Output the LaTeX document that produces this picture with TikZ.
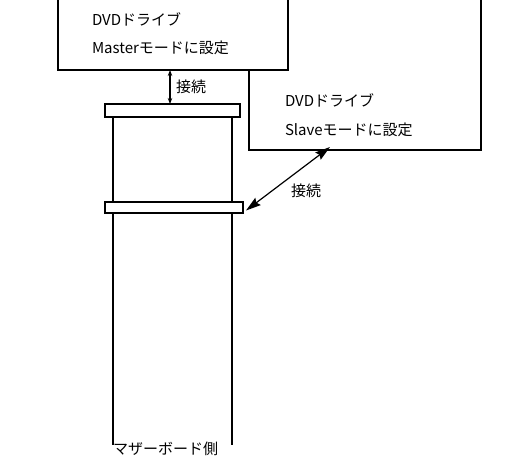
\documentclass[tikz,border=0pt]{standalone}
\usepackage{fontspec}
\setmainfont{Noto Sans CJK JP}
\usetikzlibrary{positioning,arrows.meta}

\begin{document}
\begin{tikzpicture}[x=1pt,y=-1pt,every node/.style={outer sep=0pt},
		drive/.style={draw,line width=1.8pt,fill=white},
		plug/.style={draw,line width=1.8pt,fill=white},
		cable/.style={line width=1.8pt},
		link/.style={line width=1.2pt,{Stealth[length=15pt,width=9pt,inset=2pt]}-{Stealth[length=15pt,width=9pt,inset=2pt]}},
		tiny link/.style={line width=1.2pt,{Stealth[length=6pt,width=4.5pt]}-{Stealth[length=6pt,width=4.5pt]}},
		lbl/.style={font=\fontsize{15}{17}\selectfont,inner sep=0pt},
		]
		\clip (0,0) rectangle (518,474);
		% drives
		\node[drive,minimum width=232,minimum height=180] (slave) at (365,60) {};
		\node[drive,minimum width=230,minimum height=100] (master) at (173,20) {};
		\node[lbl,anchor=west] (mname) at (92,19) {DVDドライブ};
		\node[lbl,anchor=west] (mmode) at (92,48) {Masterモードに設定};
		\node[lbl,anchor=west] (sname) at (285,100) {DVDドライブ};
		\node[lbl,anchor=west] (smode) at (285,130) {Slaveモードに設定};
		% cable
		\node[plug,minimum width=135,minimum height=13] (p1) at (172.5,110.5) {};
		\node[plug,minimum width=138,minimum height=11] (p2) at (174,207.5) {};
		\coordinate (e1) at (113,445);
		\coordinate (e2) at (232,445);
		\draw[cable] (p1.south -| e1) -- (p2.north -| e1);
		\draw[cable] (p1.south -| e2) -- (p2.north -| e2);
		\draw[cable] (p2.south -| e1) -- (e1);
		\draw[cable] (p2.south -| e2) -- (e2);
		\node[lbl,anchor=north west] (mb) at ([yshift=3]e1) {マザーボード側};
		% connections
		\draw[tiny link] ([xshift=-3]master.south) -- ([xshift=-2.5]p1.north)
		node[lbl,midway,right=6pt] (c1) {接続};
		\draw[link] ([xshift=3,yshift=-3]p2.east) -- ([xshift=-35,yshift=3]slave.south)
		node[lbl,midway,anchor=north west,xshift=3pt,yshift=-5pt] (c2) {接続};
\end{tikzpicture}
\end{document}
